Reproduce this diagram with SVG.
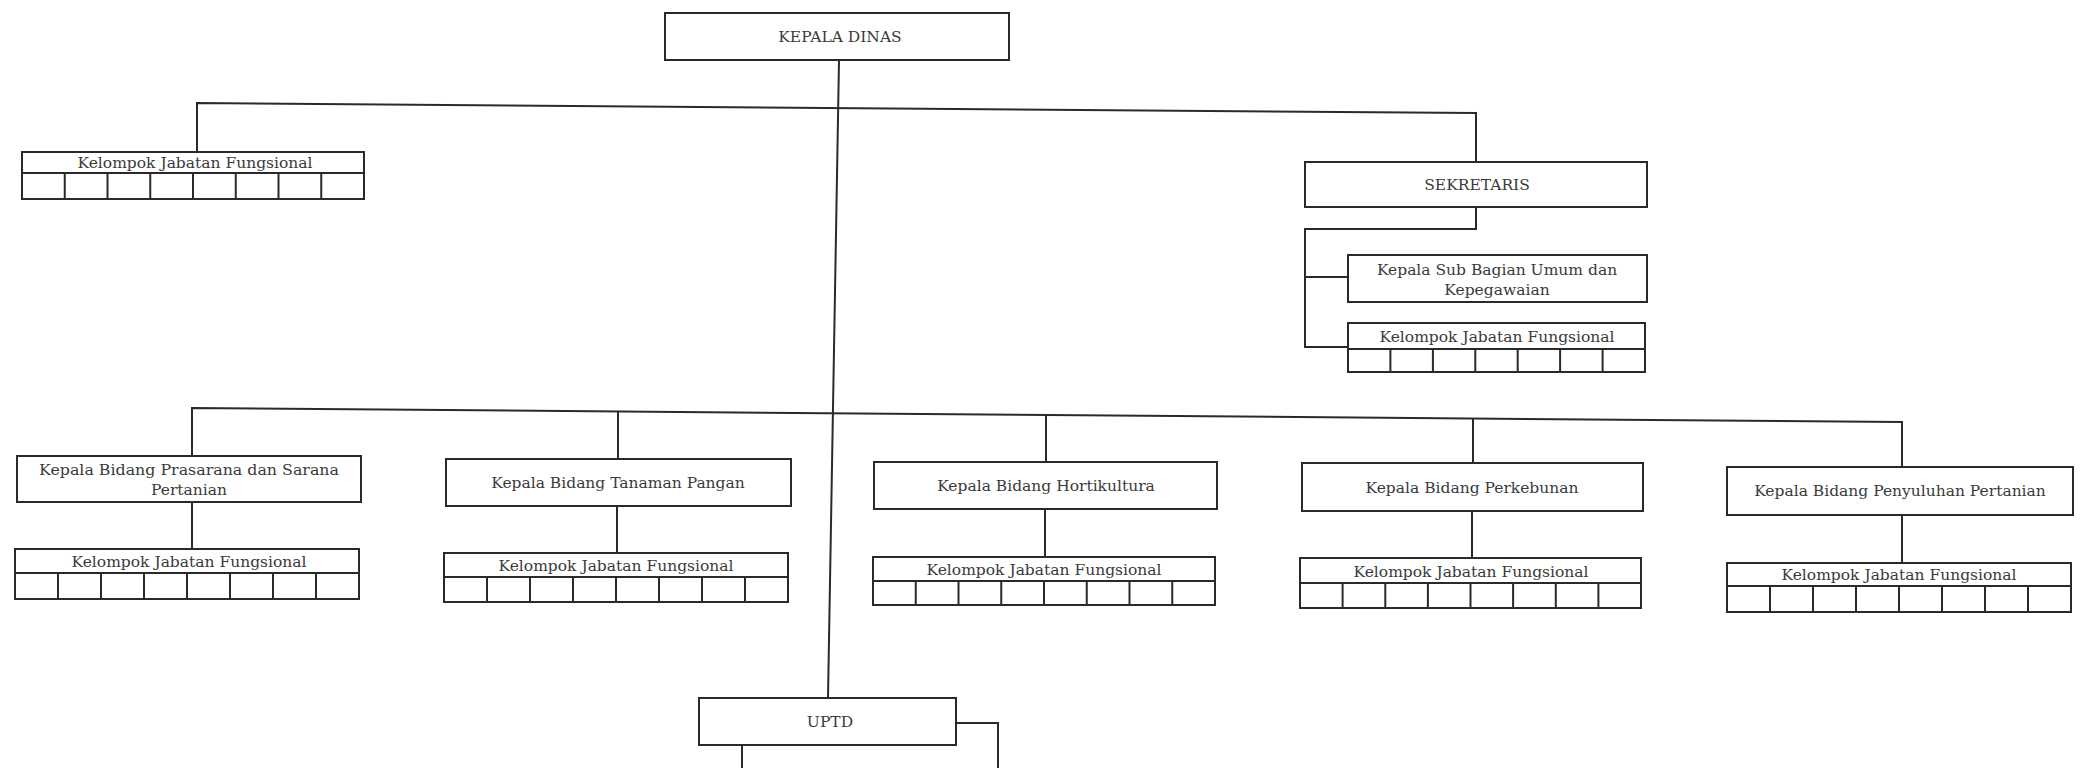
<svg xmlns="http://www.w3.org/2000/svg" width="2083" height="768" viewBox="0 0 2083 768">
<style>
.box{fill:#fff;stroke:#2a2a2a;stroke-width:2}
.ln{fill:none;stroke:#2a2a2a;stroke-width:2}
.t{font-family:"DejaVu Serif","Liberation Serif",serif;font-size:15.5px;fill:#3a3a3a;text-anchor:middle}
.cap{font-family:"DejaVu Serif","Liberation Serif",serif;font-size:15.5px;fill:#3a3a3a;text-anchor:middle}
</style>
<rect width="2083" height="768" fill="#fff"/>
<g id="connectors">
<polyline class="ln" points="839,60 828,698"/>
<polyline class="ln" points="197,152 197,103 1476,113 1476,162"/>
<polyline class="ln" points="1476,207 1476,229 1305,229 1305,347 1348,347"/>
<line class="ln" x1="1305" y1="277" x2="1348" y2="277"/>
<polyline class="ln" points="192,456 192,408 1902,422 1902,467"/>
<line class="ln" x1="618" y1="411.5" x2="618" y2="459"/>
<line class="ln" x1="1046" y1="415" x2="1046" y2="462"/>
<line class="ln" x1="1473" y1="418.5" x2="1473" y2="463"/>
<line class="ln" x1="192" y1="502" x2="192" y2="549"/>
<line class="ln" x1="617" y1="506" x2="617" y2="553"/>
<line class="ln" x1="1045" y1="509" x2="1045" y2="557"/>
<line class="ln" x1="1472" y1="511" x2="1472" y2="558"/>
<line class="ln" x1="1902" y1="515" x2="1902" y2="563"/>
</g>
<g id="kepala-dinas">
<rect class="box" x="665" y="13" width="344" height="47"/>
<text class="cap" x="840" y="42">KEPALA DINAS</text>
</g>
<g id="kjf-top">
<rect class="box" x="22" y="152" width="342" height="47"/>
<line class="ln" x1="22" y1="173" x2="364" y2="173"/>
<path class="ln" d="M64.75,173V199M107.5,173V199M150.25,173V199M193,173V199M235.75,173V199M278.5,173V199M321.25,173V199"/>
<text class="t" x="195" y="168">Kelompok Jabatan Fungsional</text>
</g>
<g id="sekretaris">
<rect class="box" x="1305" y="162" width="342" height="45"/>
<text class="cap" x="1477" y="190">SEKRETARIS</text>
</g>
<g id="kasubag">
<rect class="box" x="1348" y="255" width="299" height="47"/>
<text class="t" x="1497" y="275">Kepala Sub Bagian Umum dan</text>
<text class="t" x="1497" y="295">Kepegawaian</text>
</g>
<g id="kjf-sekretaris">
<rect class="box" x="1348" y="323" width="297" height="49"/>
<line class="ln" x1="1348" y1="349" x2="1645" y2="349"/>
<path class="ln" d="M1390.4,349V372M1432.9,349V372M1475.3,349V372M1517.7,349V372M1560.1,349V372M1602.6,349V372"/>
<text class="t" x="1497" y="342">Kelompok Jabatan Fungsional</text>
</g>
<g id="bidang-psp">
<rect class="box" x="17" y="456" width="344" height="46"/>
<text class="t" x="189" y="475" textLength="300" lengthAdjust="spacingAndGlyphs">Kepala Bidang Prasarana dan Sarana</text>
<text class="t" x="189" y="495">Pertanian</text>
</g>
<g id="kjf-psp">
<rect class="box" x="15" y="549" width="344" height="50"/>
<line class="ln" x1="15" y1="573" x2="359" y2="573"/>
<path class="ln" d="M58,573V599M101,573V599M144,573V599M187,573V599M230,573V599M273,573V599M316,573V599"/>
<text class="t" x="189" y="567">Kelompok Jabatan Fungsional</text>
</g>
<g id="bidang-tp">
<rect class="box" x="446" y="459" width="345" height="47"/>
<text class="t" x="618" y="488">Kepala Bidang Tanaman Pangan</text>
</g>
<g id="kjf-tp">
<rect class="box" x="444" y="553" width="344" height="49"/>
<line class="ln" x1="444" y1="577" x2="788" y2="577"/>
<path class="ln" d="M487,577V602M530,577V602M573,577V602M616,577V602M659,577V602M702,577V602M745,577V602"/>
<text class="t" x="616" y="571">Kelompok Jabatan Fungsional</text>
</g>
<g id="bidang-horti">
<rect class="box" x="874" y="462" width="343" height="47"/>
<text class="t" x="1046" y="491">Kepala Bidang Hortikultura</text>
</g>
<g id="kjf-horti">
<rect class="box" x="873" y="557" width="342" height="48"/>
<line class="ln" x1="873" y1="581" x2="1215" y2="581"/>
<path class="ln" d="M915.75,581V605M958.5,581V605M1001.25,581V605M1044,581V605M1086.75,581V605M1129.5,581V605M1172.25,581V605"/>
<text class="t" x="1044" y="575">Kelompok Jabatan Fungsional</text>
</g>
<g id="bidang-kebun">
<rect class="box" x="1302" y="463" width="341" height="48"/>
<text class="t" x="1472" y="493">Kepala Bidang Perkebunan</text>
</g>
<g id="kjf-kebun">
<rect class="box" x="1300" y="558" width="341" height="50"/>
<line class="ln" x1="1300" y1="583" x2="1641" y2="583"/>
<path class="ln" d="M1342.6,583V608M1385.3,583V608M1427.9,583V608M1470.5,583V608M1513.1,583V608M1555.8,583V608M1598.4,583V608"/>
<text class="t" x="1471" y="577">Kelompok Jabatan Fungsional</text>
</g>
<g id="bidang-penyuluhan">
<rect class="box" x="1727" y="467" width="346" height="48"/>
<text class="t" x="1900" y="496">Kepala Bidang Penyuluhan Pertanian</text>
</g>
<g id="kjf-penyuluhan">
<rect class="box" x="1727" y="563" width="344" height="49"/>
<line class="ln" x1="1727" y1="586" x2="2071" y2="586"/>
<path class="ln" d="M1770,586V612M1813,586V612M1856,586V612M1899,586V612M1942,586V612M1985,586V612M2028,586V612"/>
<text class="t" x="1899" y="580">Kelompok Jabatan Fungsional</text>
</g>
<g id="uptd">
<rect class="box" x="742" y="723" width="256" height="60"/>
<rect class="box" x="699" y="698" width="257" height="47"/>
<text class="cap" x="830" y="727">UPTD</text>
</g>
</svg>
